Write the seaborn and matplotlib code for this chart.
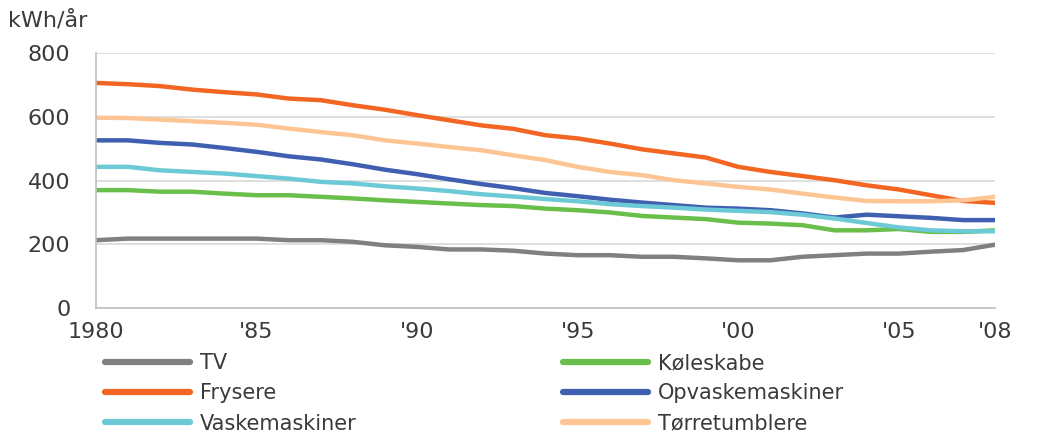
import matplotlib
matplotlib.use('Agg')
import matplotlib.pyplot as plt
import numpy as np
import pandas as pd
import seaborn as sns

years = list(range(1980, 2009))

tv = [213, 218, 218, 218, 218, 218, 213, 213, 208, 197, 192, 184, 184, 180,
      171, 166, 166, 161, 161, 156, 150, 150, 161, 166, 171, 171, 177, 182, 199]
koleskabe = [370, 370, 365, 365, 359, 354, 354, 349, 344, 338, 333, 328, 323, 320,
             312, 307, 300, 289, 284, 279, 268, 265, 260, 244, 244, 248, 239, 239, 244]
frysere = [706, 702, 696, 685, 677, 670, 657, 652, 636, 622, 605, 589, 573, 562,
           542, 532, 516, 498, 485, 472, 443, 427, 414, 401, 385, 372, 354, 336, 330]
opvask = [526, 526, 518, 513, 502, 490, 476, 466, 451, 434, 420, 404, 389, 376,
          361, 351, 340, 331, 323, 315, 312, 307, 297, 284, 293, 288, 283, 276, 276]
vask = [443, 443, 432, 427, 422, 414, 406, 396, 391, 382, 375, 367, 357, 350,
        342, 335, 326, 320, 315, 309, 305, 301, 293, 281, 267, 253, 244, 241, 241]
torre = [597, 596, 591, 586, 581, 575, 563, 552, 542, 526, 516, 505, 495, 479,
         464, 443, 427, 417, 401, 391, 380, 372, 359, 347, 336, 335, 335, 338, 349]

series_names = ['TV', 'Køleskabe', 'Frysere', 'Opvaskemaskiner', 'Vaskemaskiner', 'Tørretumblere']
series_values = [tv, koleskabe, frysere, opvask, vask, torre]
colors = ['#808080', '#6abf4b', '#f26522', '#3f5fb0', '#6ccad6', '#fdc594']

tick_years = [1980, 1985, 1990, 1995, 2000, 2005, 2008]
tick_labels = ['1980', "'85", "'90", "'95", "'00", "'05", "'08"]

df = pd.concat([pd.DataFrame({'year': years, 'kwh': v, 'type': n})
                for n, v in zip(series_names, series_values)], ignore_index=True)

sns.set_style('white')
plt.rcParams['font.family'] = ['DejaVu Sans']
FS = 16
TXT = '#3a3a3a'

fig = plt.figure(figsize=(10.4, 4.34), dpi=100)
ax = fig.add_axes([0.0923, 0.290, 0.8645, 0.588])

sns.lineplot(data=df, x='year', y='kwh', hue='type', hue_order=series_names,
             palette=dict(zip(series_names, colors)), linewidth=3.2, ax=ax, legend=False)

ax.set_xlim(1980, 2008)
ax.set_ylim(0, 800)
ax.set_yticks([0, 200, 400, 600, 800])
ax.set_xticks(tick_years)
ax.set_xticklabels(tick_labels)
ax.set_xticks(years, minor=True)
ax.yaxis.grid(True, color='#d9d9d9', linewidth=1.2)
ax.set_axisbelow(True)
for s in ['top', 'right']:
    ax.spines[s].set_visible(False)
for s in ['left', 'bottom']:
    ax.spines[s].set_color('#bfbfbf')
    ax.spines[s].set_linewidth(1.2)
ax.tick_params(axis='x', which='both', length=4, width=1.2, color='#bfbfbf',
               labelsize=FS, pad=6, labelcolor=TXT)
ax.tick_params(axis='y', length=6.5, width=1.2, color='#d9d9d9',
               labelsize=FS, pad=12, labelcolor=TXT)
ax.set_xlabel('')
ax.set_ylabel('')

fig.text(0.008, 0.953, 'kWh/år', fontsize=FS, color=TXT, va='center', ha='left')

handles = [plt.Line2D([], [], color=c, linewidth=4.5) for c in colors]
order = [0, 2, 4, 1, 3, 5]
fig.legend([handles[i] for i in order], [series_names[i] for i in order],
           loc='upper left', bbox_to_anchor=(0.101, 0.187), ncol=2, frameon=False,
           fontsize=15, handlelength=4.1, handletextpad=0.45, columnspacing=9.9,
           labelspacing=0.5, borderaxespad=0, borderpad=0, labelcolor=TXT)

fig.savefig('out.png', dpi=100)
